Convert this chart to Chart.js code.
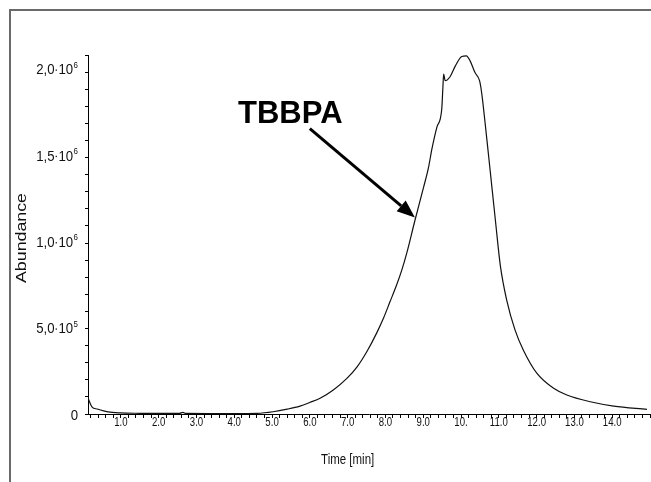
<!DOCTYPE html>
<html>
<head>
    <title>TBBPA chromatogram</title>
    <script src="https://cdn.jsdelivr.net/npm/chart.js"></script>
    <style>
        body { margin: 0; background: #fff; }
        canvas { display: block; }
    </style>
</head>
<body>
    <canvas id="chrom" width="651" height="482"></canvas>

    <script>
    // retention time [min] and abundance
    const times = [0.13, 0.24, 0.37, 0.66, 0.98, 1.5, 2.0, 2.55, 2.64, 2.72, 3.5, 4.0, 4.6, 5.03, 5.4, 5.74,
        6.0, 6.27, 6.62, 6.98, 7.25, 7.51, 7.77, 7.95, 8.12, 8.30, 8.43, 8.56, 8.78, 9.01, 9.14, 9.23,
        9.36, 9.49, 9.52, 9.54, 9.58, 9.71, 9.85, 10.02, 10.14, 10.24, 10.37, 10.49, 10.55, 10.64, 10.71,
        10.78, 10.91, 11.04, 11.21, 11.43, 11.65, 12.01, 12.45, 12.80, 13.42, 14.04, 14.92];
    const abundance = [92000, 40000, 29000, 12000, 6000, 4000, 3500, 3500, 9000, 3500, 3000, 3000, 4000, 13000, 28000, 46000,
        67000, 91000, 139000, 206000, 273000, 362000, 470000, 556000, 650000, 750000, 832000, 929000, 1121000, 1314000, 1429000, 1536000,
        1661000, 1767000, 1892000, 1969000, 1931000, 1954000, 2017000, 2071000, 2075000, 2046000, 1978000, 1931000, 1854000, 1680000, 1536000,
        1391000, 1121000, 860000, 659000, 486000, 370000, 235000, 149000, 110000, 71000, 46000, 27000];

    // y labels are written as mantissa·10^exp
    const yTickValues = [0, 500000, 1000000, 1500000, 2000000];
    const yTickMantissa = ['0', '5,0', '1,0', '1,5', '2,0'];
    const yTickExp = ['', '5', '6', '6', '6'];
    const xTickValues = [1, 2, 3, 4, 5, 6, 7, 8, 9, 10, 11, 12, 13, 14];
    const xTickLabels = ['1.0', '2.0', '3.0', '4.0', '5.0', '6.0', '7.0', '8.0', '9.0', '10.', '11.0', '12.0', '13.0', '14.0'];

    // annotation: label position and arrow, in data units
    const peakName = 'TBBPA';
    const labelAt = { x: 4.10, y: 1688000 };
    const arrowFrom = { x: 6.00, y: 1653000 };
    const arrowTo = { x: 8.78, y: 1139000 };

    const SANS = '"Liberation Sans", Arial, sans-serif';

    const points = times.map((t, i) => ({ x: t, y: abundance[i] }));

    // the original uses a condensed face, so squeeze liberation sans sideways
    function squeezed(c, text, x, y, align, sx) {
        c.save();
        c.translate(x, y);
        c.scale(sx, 1);
        c.textAlign = align;
        c.fillText(text, 0, 0);
        c.restore();
    }

    const decor = {
        id: 'decor',
        beforeDraw(chart) {
            const c = chart.ctx;
            c.save();
            c.strokeStyle = '#6a6a6a';
            c.lineWidth = 2;
            c.beginPath();
            c.moveTo(10, 482);
            c.lineTo(10, 10);
            c.lineTo(651, 10);
            c.stroke();
            c.restore();
        },
        afterDraw(chart) {
            const c = chart.ctx;
            const xs = chart.scales.x, ys = chart.scales.y;
            c.save();
            c.fillStyle = '#111';
            c.textBaseline = 'middle';

            // x tick labels
            c.font = '13px ' + SANS;
            xTickValues.forEach((v, i) => {
                squeezed(c, xTickLabels[i], xs.getPixelForValue(v), 422.5, 'center', 0.74);
            });

            // y tick labels, built right to left
            const sx = 0.88;
            yTickValues.forEach((v, i) => {
                const y = ys.getPixelForValue(v) + 1.5;
                let right = 78;
                if (yTickExp[i]) {
                    c.font = '9px ' + SANS;
                    const we = c.measureText(yTickExp[i]).width * sx;
                    c.textBaseline = 'top';
                    squeezed(c, yTickExp[i], right - we, y - 9.5, 'left', sx);
                    right -= we + 0.5;
                    c.textBaseline = 'middle';
                    c.font = '15px ' + SANS;
                    squeezed(c, '10', right, y, 'right', sx);
                    right -= c.measureText('10').width * sx + 1.2;
                    c.fillRect(right - 1.6, y - 0.8, 1.3, 1.3);
                    right -= 2.6;
                }
                c.font = '15px ' + SANS;
                squeezed(c, yTickMantissa[i], right, y, 'right', sx);
            });

            // axis titles
            c.font = '14px ' + SANS;
            squeezed(c, 'Time [min]', xs.getPixelForValue(7), 460, 'center', 0.82);
            c.translate(22, 238);
            c.rotate(-Math.PI / 2);
            const w = c.measureText('Abundance').width;
            squeezed(c, 'Abundance', 0, 0, 'center', 90 / w);
            c.restore();

            // peak label + arrow
            c.save();
            c.fillStyle = '#000';
            c.font = 'bold 31px ' + SANS;
            c.textAlign = 'left';
            c.textBaseline = 'alphabetic';
            c.fillText(peakName, xs.getPixelForValue(labelAt.x), ys.getPixelForValue(labelAt.y));
            const x0 = xs.getPixelForValue(arrowFrom.x), y0 = ys.getPixelForValue(arrowFrom.y);
            const x1 = xs.getPixelForValue(arrowTo.x), y1 = ys.getPixelForValue(arrowTo.y);
            const a = Math.atan2(y1 - y0, x1 - x0);
            const head = 18, half = 7;
            const bx = x1 - head * Math.cos(a), by = y1 - head * Math.sin(a);
            c.strokeStyle = '#000';
            c.lineWidth = 3;
            c.beginPath();
            c.moveTo(x0, y0);
            c.lineTo(bx, by);
            c.stroke();
            c.beginPath();
            c.moveTo(x1, y1);
            c.lineTo(bx + half * Math.sin(a), by - half * Math.cos(a));
            c.lineTo(bx - half * Math.sin(a), by + half * Math.cos(a));
            c.closePath();
            c.fill();
            c.restore();
        }
    };

    const chrom = new Chart(document.getElementById('chrom').getContext('2d'), {
        type: 'line',
        data: {
            datasets: [{
                data: points,
                borderColor: '#111',
                borderWidth: 1.2,
                pointRadius: 0,
                fill: false,
                cubicInterpolationMode: 'monotone'
            }]
        },
        options: {
            responsive: false,
            animation: false,
            events: [],
            layout: { padding: { top: 55, right: 1, left: 0, bottom: 0 } },
            plugins: { legend: { display: false }, tooltip: { enabled: false } },
            scales: {
                x: {
                    type: 'linear',
                    min: 0.13,
                    max: 15.0,
                    afterFit(scale) { scale.height = 68; },
                    border: { color: '#000', width: 1 },
                    grid: { drawOnChartArea: false, tickLength: 4, color: '#000' },
                    ticks: {
                        display: false,
                        stepSize: 0.2,
                        autoSkip: false,
                        includeBounds: false,
                        maxTicksLimit: 200
                    }
                },
                y: {
                    min: 0,
                    max: 2080000,
                    afterFit(scale) { scale.width = 88; },
                    border: { color: '#000', width: 1 },
                    grid: { drawOnChartArea: false, tickLength: 3, color: '#000' },
                    ticks: {
                        display: false,
                        stepSize: 100000,
                        autoSkip: false,
                        includeBounds: false,
                        maxTicksLimit: 200
                    }
                }
            }
        },
        plugins: [decor]
    });
    </script>
</body>
</html>
